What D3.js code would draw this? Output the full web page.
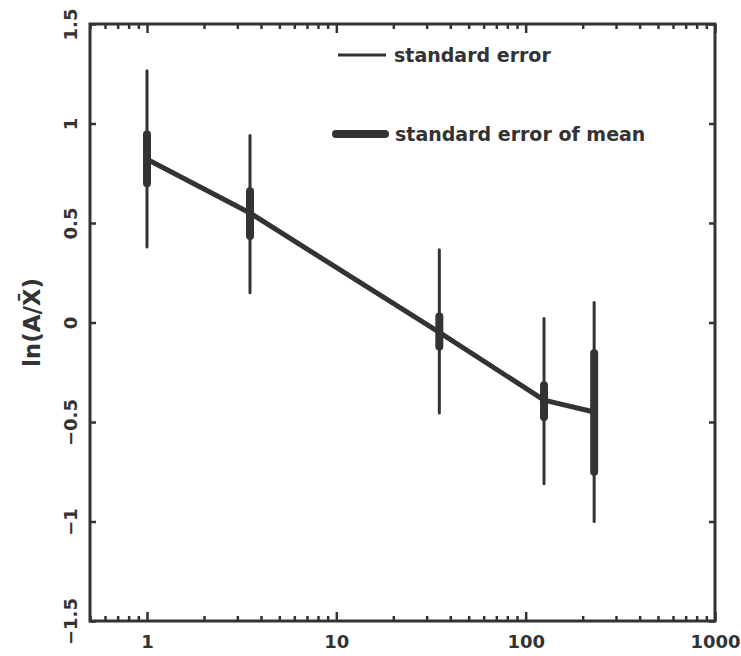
<!DOCTYPE html>
<html>
<head>
<meta charset="utf-8">
<script src="https://cdn.jsdelivr.net/npm/d3@7"></script>
<style>
  html, body { margin: 0; padding: 0; background: #fff; }
  svg text { font-family: "DejaVu Sans", sans-serif; font-weight: bold; fill: #333; }
</style>
</head>
<body>
<svg id="chart" width="741" height="656"></svg>
<script>
// ---- data ----
const xValues   = [1, 3.5, 35, 125, 230];
const meanVals  = [0.82, 0.55, -0.05, -0.39, -0.45];
const seLow     = [0.38, 0.15, -0.455, -0.81, -1.00];
const seHigh    = [1.265, 0.94, 0.365, 0.02, 0.10];
const semLow    = [0.70, 0.435, -0.12, -0.475, -0.75];
const semHigh   = [0.945, 0.66, 0.03, -0.315, -0.155];
const xTickVals = [1, 10, 100, 1000];
const xTickLabels = ["1", "10", "100", "1000"];
const yTickVals = [-1.5, -1, -0.5, 0, 0.5, 1, 1.5];
const yTickLabels = ["\u22121.5", "\u22121", "\u22120.5", "0", "0.5", "1", "1.5"];
const legendLabels = ["standard error", "standard error of mean"];
const yTitle = "ln(A/X\u0304)";

const ink = "#333";
const FONT = "'DejaVu Sans', sans-serif";
const svg = d3.select("#chart");
const L = 90, R = 715, T = 24, B = 621;
const x = d3.scaleLog().domain([0.5, 1000]).range([L, R]);
const y = d3.scaleLinear().domain([-1.5, 1.5]).range([B, T]);

const minorTicks = x.ticks().filter(v => !xTickVals.includes(v));
function styleAxis(g) {
  g.select(".domain").remove();
  g.selectAll(".tick line").attr("stroke", ink).attr("stroke-width", 2.5);
}
svg.append("g").attr("transform", `translate(0,${B})`)
  .call(d3.axisBottom(x).tickValues(minorTicks).tickSize(-5).tickFormat(""))
  .call(styleAxis);
svg.append("g").attr("transform", `translate(0,${T})`)
  .call(d3.axisTop(x).tickValues(minorTicks).tickSize(-5).tickFormat(""))
  .call(styleAxis);
svg.append("g").attr("transform", `translate(0,${T})`)
  .call(d3.axisTop(x).tickValues(xTickVals).tickSize(-9).tickFormat(""))
  .call(styleAxis);
const xb = svg.append("g").attr("transform", `translate(0,${B})`)
  .call(d3.axisBottom(x).tickValues(xTickVals).tickSize(-9)
        .tickFormat((d, i) => xTickLabels[i]).tickPadding(26))
  .call(styleAxis);
xb.selectAll("text").attr("font-size", 18).attr("dy", 0).attr("y", 27)
  .style("font-family", FONT).style("font-weight", "bold").attr("fill", ink);

const yl = svg.append("g").attr("transform", `translate(${L},0)`)
  .call(d3.axisLeft(y).tickValues(yTickVals).tickSize(-6)
        .tickFormat((d, i) => yTickLabels[i]))
  .call(styleAxis);
yl.selectAll("text")
  .attr("transform", "rotate(-90)")
  .attr("x", 0).attr("y", -13).attr("dy", 0)
  .attr("text-anchor", "middle")
  .attr("font-size", 18)
  .style("font-family", FONT).style("font-weight", "bold").attr("fill", ink);
svg.append("g").attr("transform", `translate(${R},0)`)
  .call(d3.axisRight(y).tickValues(yTickVals).tickSize(-6).tickFormat(""))
  .call(styleAxis);

svg.append("rect").attr("x", L).attr("y", T).attr("width", R - L).attr("height", B - T)
  .attr("fill", "none").attr("stroke", ink).attr("stroke-width", 3);

svg.append("text")
  .attr("transform", `translate(40,${(T + B) / 2}) rotate(-90)`)
  .attr("text-anchor", "middle").attr("font-size", 23).text(yTitle);

const pts = xValues.map((v, i) => [x(v), y(meanVals[i])]);
svg.append("path").attr("d", d3.line()(pts))
  .attr("fill", "none").attr("stroke", ink).attr("stroke-width", 5).attr("stroke-linejoin", "round");

svg.selectAll(".se").data(xValues).join("line")
  .attr("x1", d => x(d)).attr("x2", d => x(d))
  .attr("y1", (d, i) => y(seHigh[i])).attr("y2", (d, i) => y(seLow[i]))
  .attr("stroke", ink).attr("stroke-width", 3).attr("stroke-linecap", "round");
svg.selectAll(".sem").data(xValues).join("line")
  .attr("x1", d => x(d)).attr("x2", d => x(d))
  .attr("y1", (d, i) => y(semHigh[i])).attr("y2", (d, i) => y(semLow[i]))
  .attr("stroke", ink).attr("stroke-width", 8).attr("stroke-linecap", "round");

const lg = svg.append("g");
lg.append("line").attr("x1", 338).attr("x2", 386).attr("y1", 55).attr("y2", 55)
  .attr("stroke", ink).attr("stroke-width", 3);
lg.append("text").attr("x", 394).attr("y", 55).attr("dy", "0.35em").attr("font-size", 19).text(legendLabels[0]);
lg.append("line").attr("x1", 336).attr("x2", 385).attr("y1", 134).attr("y2", 134)
  .attr("stroke", ink).attr("stroke-width", 8).attr("stroke-linecap", "round");
lg.append("text").attr("x", 395).attr("y", 134).attr("dy", "0.35em").attr("font-size", 19).text(legendLabels[1]);
</script>
</body>
</html>
